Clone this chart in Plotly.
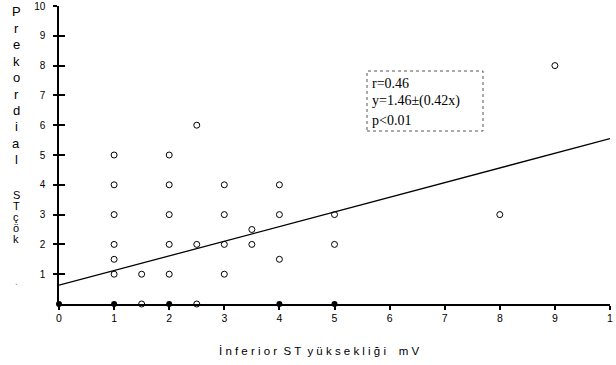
import plotly.graph_objects as go

# Scatter data (open circles)
pts_x = [1, 1, 1, 1, 1, 1, 1.5, 2, 2, 2, 2, 2, 2.5, 2.5, 3, 3, 3, 3, 3.5, 3.5, 4, 4, 4, 5, 5, 8, 9, 1.5, 2.5]
pts_y = [1, 1.5, 2, 3, 4, 5, 1, 1, 2, 3, 4, 5, 2, 6, 1, 2, 3, 4, 2, 2.5, 1.5, 3, 4, 2, 3, 3, 8, 0, 0]
# Filled dots sitting on the x axis
zero_x = [0, 1, 2, 4, 5]
zero_y = [0, 0, 0, 0, 0]
# Regression line as drawn
fit_x = [0, 10]
fit_y = [0.63, 5.55]

x_ticks = [0, 1, 2, 3, 4, 5, 6, 7, 8, 9, 10]
x_ticktext = ["0", "1", "2", "3", "4", "5", "6", "7", "8", "9", "1"]
y_ticks = [1, 2, 3, 4, 5, 6, 7, 8, 9, 10]
y_ticktext = ["1", "2", "3", "4", "5", "6", "7", "8", "9", "10"]

stats_lines = ["r=0.46", "y=1.46±(0.42x)", "p<0.01"]
ylabel_top = list("Prekordial")
ylabel_bottom = list("STçök")

fig = go.Figure()
fig.add_trace(go.Scatter(x=fit_x, y=fit_y, mode="lines", yaxis="y2",
                         line=dict(color="black", width=1.3), cliponaxis=False,
                         showlegend=False, hoverinfo="skip"))
fig.add_trace(go.Scatter(x=pts_x, y=pts_y, mode="markers",
                         marker=dict(symbol="circle-open", size=6, color="black",
                                     line=dict(width=1, color="black")),
                         cliponaxis=False, showlegend=False))
fig.add_trace(go.Scatter(x=zero_x, y=zero_y, mode="markers",
                         marker=dict(symbol="circle", size=6, color="black"),
                         cliponaxis=False, showlegend=False))

L, R, T, B = 59, 6, 6, 61
W, H = 616, 365
pw, ph = W - L - R, H - T - B

def px_to_paper_y(py):
    return (H - B - py) / ph

def px_to_paper_x(px):
    return (px - L) / pw

annotations = []
# vertical stacked y-axis title
for i, ch in enumerate(ylabel_top):
    annotations.append(dict(text=ch, x=px_to_paper_x(16), y=px_to_paper_y(12 + 16.4 * i),
                            xref="paper", yref="paper", showarrow=False,
                            font=dict(family="Arial", size=13, color="black"),
                            xanchor="center", yanchor="middle"))
for i, ch in enumerate(ylabel_bottom):
    annotations.append(dict(text=ch, x=px_to_paper_x(16), y=px_to_paper_y(195 + 11 * i),
                            xref="paper", yref="paper", showarrow=False,
                            font=dict(family="Arial", size=11, color="black"),
                            xanchor="center", yanchor="middle"))
annotations.append(dict(text=".", x=px_to_paper_x(16), y=px_to_paper_y(281),
                        xref="paper", yref="paper", showarrow=False,
                        font=dict(family="Arial", size=10, color="#888"),
                        xanchor="center", yanchor="middle"))

# stats box text
for i, s in enumerate(stats_lines):
    annotations.append(dict(text=s, x=px_to_paper_x(370), y=px_to_paper_y(83 + 18.5 * i),
                            xref="paper", yref="paper", showarrow=False,
                            font=dict(family="Liberation Serif", size=14, color="black"),
                            xanchor="left", yanchor="middle"))

# x-axis title
annotations.append(dict(text="İ n f e r i o r  S T  y ü k s e k l i ğ i \u00a0\u00a0 m V",
                        x=px_to_paper_x(319), y=px_to_paper_y(351),
                        xref="paper", yref="paper", showarrow=False,
                        font=dict(family="Arial", size=11.5, color="black"),
                        xanchor="center", yanchor="middle"))

shapes = [dict(type="rect", xref="paper", yref="paper",
               x0=px_to_paper_x(367), x1=px_to_paper_x(483),
               y0=px_to_paper_y(131), y1=px_to_paper_y(71),
               line=dict(color="#555", width=1, dash="dot"))]

fig.update_layout(
    width=W, height=H,
    margin=dict(l=L, r=R, t=T, b=B, autoexpand=False),
    paper_bgcolor="white", plot_bgcolor="white",
    showlegend=False,
    annotations=annotations,
    shapes=shapes,
    xaxis=dict(range=[0, 10], tickvals=x_ticks, ticktext=x_ticktext, automargin=False,
               showgrid=False, zeroline=False, showline=True, linecolor="black", linewidth=1.5,
               ticks="outside", ticklen=4, tickwidth=2, tickcolor="black",
               tickfont=dict(family="Arial", size=10.5, color="black")),
    yaxis=dict(range=[0, 10], tickvals=y_ticks, ticktext=y_ticktext, automargin=False,
               showgrid=False, zeroline=False, showline=True, linecolor="black", linewidth=1.5,
               ticks="outside", ticklen=4, tickwidth=2, tickcolor="black",
               ticklabelstandoff=6,
               tickfont=dict(family="Arial", size=10, color="black")),
    yaxis2=dict(range=[0, 10], overlaying="y", side="left", tickvals=y_ticks, automargin=False,
                showticklabels=False, showgrid=False, zeroline=False, showline=False,
                ticks="inside", ticklen=6, tickwidth=2, tickcolor="black"),
)

fig.write_html("out.html", config={"displayModeBar": False},
               post_script="document.body.style.margin='0';document.body.style.overflow='hidden';")
